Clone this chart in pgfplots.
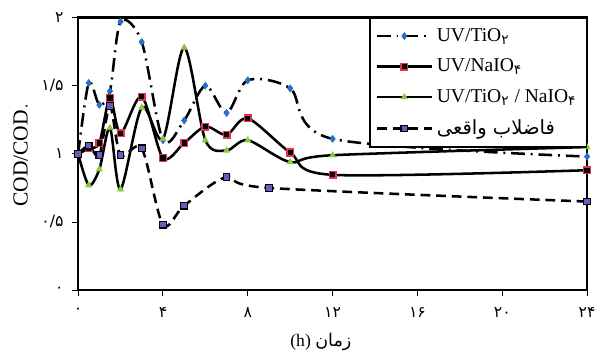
\documentclass[border=0pt]{standalone}
\usepackage{fontspec}
\setmainfont{Liberation Serif}
\newfontfamily\pfont[Script=Arabic]{DejaVu Sans}
\usepackage{pgfplots}
\pgfplotsset{compat=1.18}
\usetikzlibrary{calc}
\TeXXeTstate=1
\definecolor{tiblue}{RGB}{40,110,200}
\definecolor{nared}{RGB}{230,50,80}
\definecolor{grn}{RGB}{140,200,60}
\definecolor{purp}{RGB}{110,90,190}
\begin{document}
\begin{tikzpicture}
\begin{axis}[name=ax, scale only axis, width=260.5pt, height=139.5pt,
  xmin=0, xmax=24, ymin=0, ymax=2,
  xtick={0,4,8,12,16,20,24},
  xticklabels={۰,۴,۸,۱۲,۱۶,۲۰,۲۴},
  ytick={0,0.5,1,1.5,2},
  yticklabels={۰,۰/۵,۱,۱/۵,۲},
  tick align=outside, xtick pos=left, ytick pos=left,
  major tick length=3pt,
  tick style={black, line width=0.5pt},
  axis line style={line width=1.2pt},
  ticklabel style={font=\pfont\footnotesize},
  xticklabel style={yshift=-2.5pt},
  yticklabel style={xshift=-1pt},
  xlabel={(h) {\pfont\small\beginR زمان\endR}},
  xlabel style={font=\small, yshift=-1pt, xshift=-6pt},
  ylabel={COD/COD\textsubscript{\pfont ۰}},
  ylabel style={font=\fontsize{11}{13}\selectfont, yshift=-1.5pt},
  legend cell align=left,
  legend style={at={(1,1)}, anchor=north east, draw=black, line width=0.8pt,
    fill=white, font=\normalsize, inner xsep=3pt, inner ysep=3pt, row sep=3.5pt},
  legend image code/.code={\draw[mark repeat=2,mark phase=2,#1] plot coordinates {(0pt,0pt)(14pt,0pt)(28pt,0pt)};},
  every axis plot/.append style={line width=1.3pt, black, smooth, tension=0.5},
]
\addplot[dash pattern=on 7pt off 3pt on 1pt off 3pt, mark=diamond*, mark size=1.8pt,
  mark options={solid, fill=tiblue, draw=tiblue, line width=0.3pt}]
  coordinates {(0,1) (0.5,1.52) (1,1.36) (1.5,1.46) (2,1.97) (3,1.82) (4,1.10) (5,1.245) (6,1.50) (7,1.30) (8,1.54) (10,1.48) (12,1.11) (24,0.98)};
\addlegendentry{UV/TiO\textsubscript{\pfont ۲}}
\addplot[mark=square*, mark size=1.7pt,
  mark options={solid, fill=black, draw=nared, line width=0.7pt}]
  coordinates {(0,1) (0.5,1.04) (1,1.08) (1.5,1.41) (2,1.15) (3,1.42) (4,0.97) (5,1.08) (6,1.20) (7,1.14) (8,1.26) (10,1.01) (12,0.846) (24,0.88)};
\addlegendentry{UV/NaIO\textsubscript{\pfont ۴}}
\addplot[mark=triangle*, mark size=1.8pt,
  mark options={solid, fill=grn, draw=grn, line width=0.3pt}]
  coordinates {(0,1) (0.5,0.77) (1,0.887) (1.5,1.19) (2,0.74) (3,1.34) (4,1.11) (5,1.78) (6,1.10) (7,1.025) (8,1.10) (10,0.94) (12,0.99) (24,1.05)};
\addlegendentry{UV/TiO\textsubscript{\pfont ۲} / NaIO\textsubscript{\pfont ۴}}
\addplot[dash pattern=on 5pt off 3pt, mark=square*, mark size=1.7pt,
  mark options={solid, fill=purp, draw=black, line width=0.6pt}]
  coordinates {(0,1) (0.5,1.06) (1,0.99) (1.5,1.35) (2,0.99) (3,1.04) (4,0.48) (5,0.62) (7,0.83) (9,0.75) (24,0.65)};
\addlegendentry{{\pfont\beginR فاضلاب واقعی\endR}}
\end{axis}
\path ($(ax.south west)+(-40pt,-28.5pt)$) rectangle ($(ax.north east)+(0.5pt,9pt)$);
\end{tikzpicture}
\end{document}
